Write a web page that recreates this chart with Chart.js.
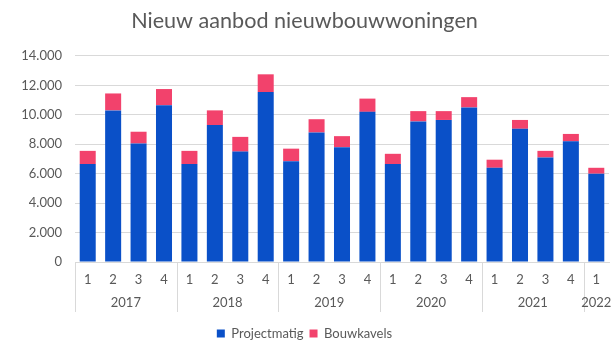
<!DOCTYPE html>
<html>
<head>
<meta charset="utf-8">
<script src="https://cdn.jsdelivr.net/npm/chart.js@4"></script>
<style>
  html, body { margin: 0; padding: 0; background: #ffffff; }
  #wrap { width: 612px; height: 341px; position: relative; }
</style>
</head>
<body>
<div id="wrap"><canvas id="c"></canvas></div>
<script>
// ---- data ----
const quarters = ['1','2','3','4','1','2','3','4','1','2','3','4','1','2','3','4','1','2','3','4','1'];
const years = ['2017','2017','2017','2017','2018','2018','2018','2018','2019','2019','2019','2019',
               '2020','2020','2020','2020','2021','2021','2021','2021','2022'];
const projectmatig = [6650,10300,8050,10650,6650,9300,7500,11550,6850,8800,7800,10200,6650,9550,9650,10500,6400,9050,7100,8200,6000];
const bouwkavels   = [900,1150,800,1100,900,1000,1000,1200,850,900,750,900,700,700,600,700,550,600,450,500,400];
const seriesNames = ['Projectmatig', 'Bouwkavels'];
const chartTitle = 'Nieuw aanbod nieuwbouwwoningen';

const TXT = '#595959';
const GRID = '#d9d9d9';
const FONT = 'Lato, "Open Sans", sans-serif';

const yearGroups = {
  id: 'yearGroups',
  afterDraw(chart) {
    const x = chart.scales.x;
    const ctx = chart.ctx;
    const bottom = chart.chartArea.bottom;
    const n = years.length;
    const half = (x.getPixelForValue(1) - x.getPixelForValue(0)) / 2;
    ctx.save();
    ctx.strokeStyle = GRID;
    ctx.lineWidth = 1;
    ctx.fillStyle = TXT;
    ctx.font = '13px ' + FONT;
    ctx.textAlign = 'center';
    ctx.textBaseline = 'middle';
    let start = 0;
    for (let i = 1; i <= n; i++) {
      if (i === n || years[i] !== years[start]) {
        const left = x.getPixelForValue(start) - half;
        const xl = Math.round(left) + 0.5;
        ctx.beginPath();
        ctx.moveTo(xl, bottom);
        ctx.lineTo(xl, bottom + 50);
        ctx.stroke();
        const c = (x.getPixelForValue(start) + x.getPixelForValue(i - 1)) / 2;
        ctx.fillText(years[start], c, bottom + 41);
        start = i;
      }
    }
    ctx.restore();
  }
};

new Chart(document.getElementById('c'), {
  type: 'bar',
  data: {
    labels: quarters,
    datasets: [
      { label: seriesNames[0], data: projectmatig, backgroundColor: '#0a50c8', stack: 's' },
      { label: seriesNames[1], data: bouwkavels, backgroundColor: '#f2426c', stack: 's' }
    ]
  },
  options: {
    responsive: true,
    maintainAspectRatio: false,
    animation: false,
    layout: { padding: { left: 0, right: 3, top: 0, bottom: -9 } },
    datasets: { bar: { categoryPercentage: 1, barPercentage: 0.63 } },
    plugins: {
      title: {
        display: true,
        text: chartTitle,
        color: TXT,
        font: { family: FONT, size: 21.6, weight: 'normal' },
        padding: { top: 8, bottom: 22 }
      },
      legend: {
        position: 'bottom',
        labels: {
          color: TXT,
          font: { family: FONT, size: 13 },
          boxWidth: 8,
          boxHeight: 8,
          padding: 6
        }
      },
      tooltip: { enabled: false }
    },
    scales: {
      x: {
        stacked: true,
        grid: { display: false, drawTicks: false },
        border: { display: true, color: GRID },
        ticks: { color: TXT, font: { family: FONT, size: 13 }, padding: 10, maxRotation: 0, autoSkip: false },
        afterFit(scale) { scale.height = 59; }
      },
      y: {
        stacked: true,
        min: 0,
        max: 14000,
        grid: { color: GRID, drawTicks: false },
        border: { display: false },
        ticks: {
          stepSize: 2000,
          padding: 13,
          color: TXT,
          font: { family: FONT, size: 13 },
          callback: v => v.toLocaleString('de-DE')
        },
        afterFit(scale) { scale.width = 75; }
      }
    }
  },
  plugins: [yearGroups]
});
</script>
</body>
</html>
